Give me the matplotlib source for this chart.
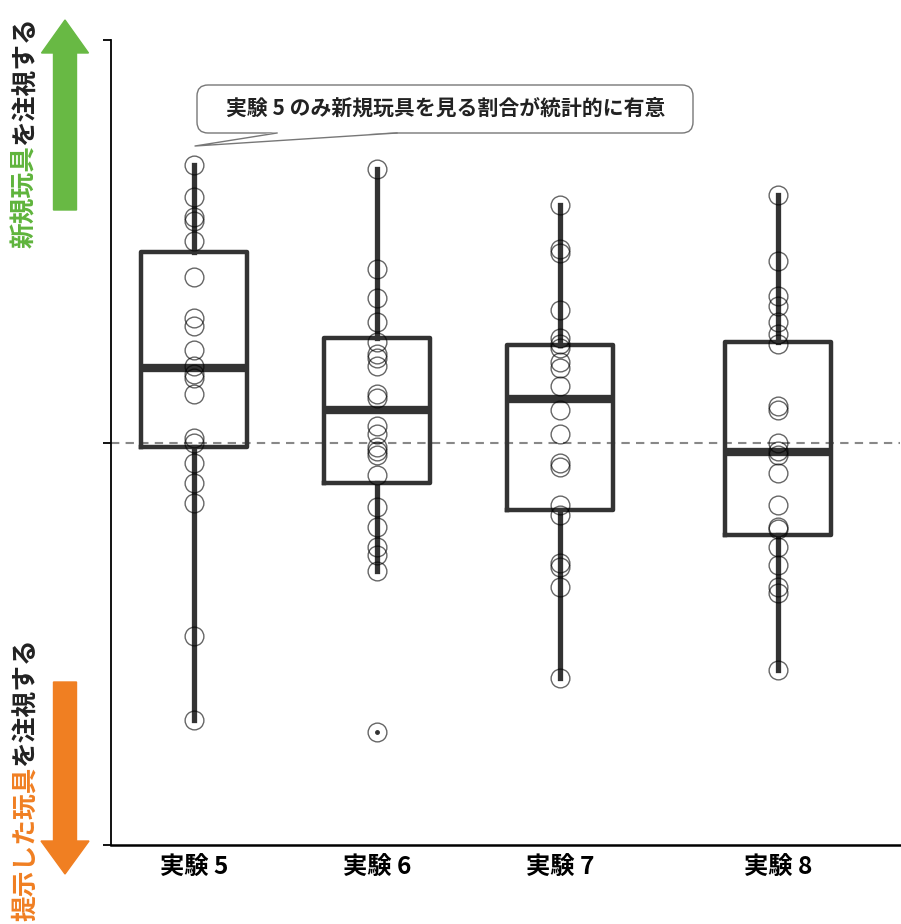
import matplotlib
matplotlib.use('Agg')
import matplotlib.pyplot as plt
import numpy as np
from matplotlib.patches import FancyArrow, FancyBboxPatch, Polygon
from matplotlib.lines import Line2D
from matplotlib.transforms import Affine2D

plt.rcParams['font.family'] = ['Noto Sans CJK JP', 'DejaVu Sans']

W, H = 901, 924

# experiment labels and box x positions
labels = ['実験 5', '実験 6', '実験 7', '実験 8']
positions = [1.0, 2.0, 3.0, 4.19]

# individual scores per experiment
exp5 = [0.69, 0.61, 0.56, 0.55, 0.50, 0.41, 0.31, 0.29, 0.23, 0.19, 0.17,
        0.16, 0.12, 0.01, 0.00, -0.05, -0.10, -0.15, -0.48, -0.69]
exp6 = [0.68, 0.43, 0.36, 0.30, 0.25, 0.22, 0.21, 0.19, 0.12, 0.11, 0.04,
        0.02, -0.01, -0.02, -0.03, -0.08, -0.16, -0.21, -0.26, -0.28, -0.32, -0.72]
exp7 = [0.59, 0.48, 0.47, 0.33, 0.26, 0.245, 0.235, 0.20, 0.185, 0.14, 0.08,
        0.02, -0.05, -0.06, -0.155, -0.18, -0.30, -0.31, -0.36, -0.585]
exp8 = [0.615, 0.45, 0.365, 0.34, 0.30, 0.27, 0.245, 0.09, 0.08, 0.00, -0.02,
        -0.03, -0.075, -0.155, -0.21, -0.215, -0.26, -0.305, -0.36, -0.375, -0.565]
scores = [exp5, exp6, exp7, exp8]

# box summary
q1 = [-0.011, -0.10, -0.168, -0.23]
med = [0.185, 0.08, 0.108, -0.024]
q3 = [0.473, 0.26, 0.242, 0.25]
whislo = [-0.69, -0.32, -0.585, -0.565]
whishi = [0.69, 0.68, 0.59, 0.615]
fliers = [[], [-0.72], [], []]

note = '実験 5 のみ新規玩具を見る割合が統計的に有意'

fig = plt.figure(figsize=(W / 100, H / 100), dpi=100)
ax = fig.add_axes([111 / W, 1 - 845 / H, (900 - 111) / W, (845 - 40) / H])

stats = []
for i in range(4):
    stats.append(dict(q1=q1[i], med=med[i], q3=q3[i], whislo=whislo[i],
                      whishi=whishi[i], fliers=fliers[i], label=labels[i]))

dark = '#333333'
ax.bxp(stats, positions=positions, widths=0.58, showcaps=False,
       boxprops=dict(color=dark, linewidth=3.2),
       whiskerprops=dict(color=dark, linewidth=3.8),
       medianprops=dict(color=dark, linewidth=6),
       flierprops=dict(marker='.', markerfacecolor=dark, markeredgecolor=dark,
                       markersize=5),
       zorder=2)

for pos, vals in zip(positions, scores):
    ax.plot(np.full(len(vals), pos), vals, 'o', mfc='none',
            mec=(0, 0, 0, 0.6), ms=13.5, mew=1.0, zorder=3)

ax.axhline(0, color='#888888', linestyle=(0, (4, 3)), linewidth=1.5, zorder=1)

ax.set_xlim(0.546, 4.857)
ax.set_ylim(-1, 1)
ax.set_yticks([-1, 0, 1])
ax.set_yticklabels([])
ax.tick_params(axis='y', length=6, width=1.3, direction='out')
ax.set_xticks(positions)
ax.set_xticklabels(labels, fontsize=17.5, fontweight='bold')
ax.tick_params(axis='x', length=0, pad=8)
ax.spines['top'].set_visible(False)
ax.spines['right'].set_visible(False)
ax.spines['left'].set_linewidth(1.3)
ax.spines['bottom'].set_linewidth(1.8)

# pixel transform, y measured from top
pxT = Affine2D().scale(1 / W, -1 / H).translate(0, 1) + fig.transFigure

# direction arrows
fig.patches.append(FancyArrow(65, 210, 0, -190, width=23, head_width=47,
                              head_length=33, length_includes_head=True,
                              color='#68b944', transform=pxT, figure=fig))
fig.patches.append(FancyArrow(65, 682, 0, 192, width=23, head_width=48,
                              head_length=33, length_includes_head=True,
                              color='#f07f22', transform=pxT, figure=fig))

# vertical two-tone captions
renderer = fig.canvas.get_renderer()


def two_tone(x, y, parts, size):
    for s, c in parts:
        t = fig.text(x / W, 1 - y / H, s, color=c, rotation=90,
                     rotation_mode='anchor', ha='left', va='center',
                     fontsize=size, fontweight='bold')
        y -= t.get_window_extent(renderer).height


two_tone(25, 248, [('新規玩具', '#5fb43c'), ('を注視する', '#222222')], 18.5)
two_tone(25, 921, [('提示した玩具', '#f07f22'), ('を注視する', '#222222')], 18.5)

# speech bubble
fig.patches.append(FancyBboxPatch((197, 85), 496, 48,
                                  boxstyle='round,pad=0,rounding_size=11',
                                  facecolor='white', edgecolor='#777777',
                                  linewidth=1.0, transform=pxT, figure=fig))
fig.patches.append(Polygon([(277, 132), (397, 132), (195, 146)], closed=True,
                           facecolor='white', edgecolor='none',
                           transform=pxT, figure=fig))
fig.lines.append(Line2D([277, 195, 397], [133, 146, 133], color='#777777',
                        linewidth=1.0, transform=pxT, figure=fig))
fig.text(446 / W, 1 - 108 / H, note, ha='center', va='center',
         fontsize=15, fontweight='bold', color='#222222')

fig.savefig('out.png', dpi=100)
